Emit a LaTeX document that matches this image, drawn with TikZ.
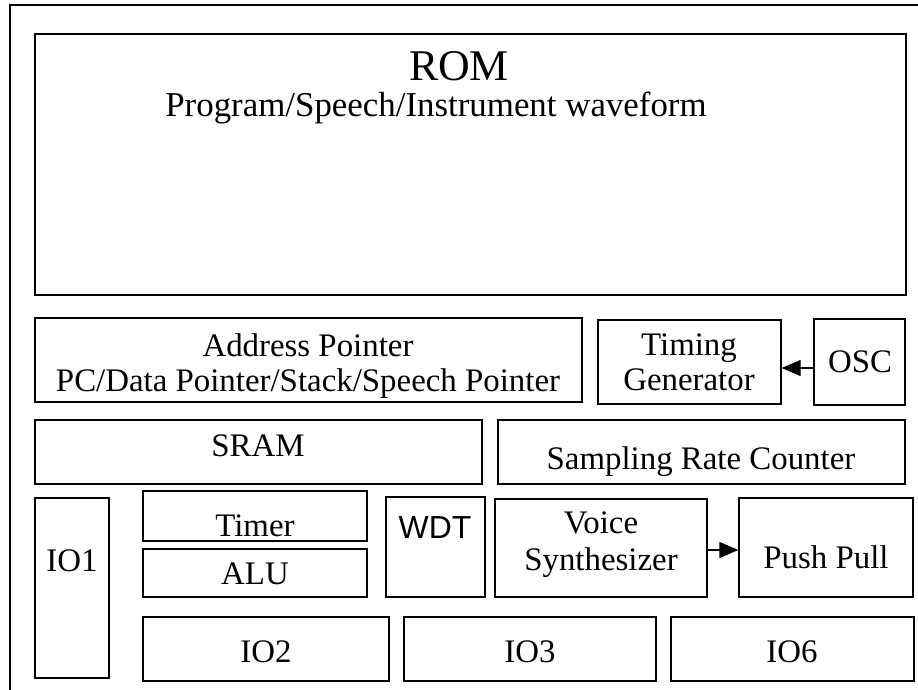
\documentclass[tikz,border=0pt]{standalone}
\usepackage{fontspec}
\setmainfont{Liberation Serif}
\newfontfamily\arialf{Liberation Sans}
\usetikzlibrary{fit,arrows.meta}
\begin{document}
\begin{tikzpicture}[x=1bp,y=-1bp,
  box/.style={draw,line width=1.4bp,inner sep=0pt,rectangle},
  txt/.style={inner sep=0pt,anchor=base,font=\fontsize{33}{38}\selectfont},
  sub/.style={inner sep=0pt,anchor=base,font=\fontsize{35}{40}\selectfont},
  big/.style={inner sep=0pt,anchor=base,font=\fontsize{44}{50}\selectfont},
  sans/.style={inner sep=0pt,anchor=base,font=\arialf\fontsize{32}{38}\selectfont},
  arr/.style={line width=1.4bp,-{Triangle[length=19bp,width=16bp]}}]
\useasboundingbox (0,0) rectangle (918,690);
% outer frame (cropped)
\coordinate (fa) at (918,5);
\coordinate (fb) at (10,5);
\coordinate (fc) at (10,690);
\draw[line width=2bp] (fa) -- (fb) -- (fc);
% boxes
\node[box,fit={(35,34) (906,295)}] (rom) {};
\node[box,fit={(35,318) (582,402)}] (addr) {};
\node[box,fit={(598,320) (781,404)}] (timing) {};
\node[box,fit={(814,319) (905,405)}] (osc) {};
\node[box,fit={(35,420) (482,484)}] (sram) {};
\node[box,fit={(498,420) (905,484)}] (src) {};
\node[box,fit={(35,498) (109,678)}] (io1) {};
\node[box,fit={(143,491) (367,541)}] (timer) {};
\node[box,fit={(143,549) (367,597)}] (alu) {};
\node[box,fit={(386,497) (485,597)}] (wdt) {};
\node[box,fit={(495,499) (707,597)}] (voice) {};
\node[box,fit={(739,498) (913,597)}] (pp) {};
\node[box,fit={(143,617) (389,681)}] (io2) {};
\node[box,fit={(404,617) (656,681)}] (io3) {};
\node[box,fit={(671,617) (914,681)}] (io6) {};
% texts
\node[big] (romt) at (459,81) {ROM};
\node[sub] (romd) at (436,117) {Program/Speech/Instrument waveform};
\node[txt] (addrt) at (308,356) {Address Pointer};
\node[txt] (addrd) at (308,391) {PC/Data Pointer/Stack/Speech Pointer};
\node[txt] (timt) at (689,355) {Timing};
\node[txt] (timd) at (689,390) {Generator};
\node[txt] (osct) at (860,372) {OSC};
\node[txt] (sramt) at (258,456) {SRAM};
\node[txt] (srct) at (701,469) {Sampling Rate Counter};
\node[txt] (io1t) at (72,571) {IO1};
\node[txt] (timert) at (255,536) {Timer};
\node[txt] (alut) at (255,584) {ALU};
\node[sans] (wdtt) at (435,538) {WDT};
\node[txt] (voicet) at (601,533) {Voice};
\node[txt] (voiced) at (601,570) {Synthesizer};
\node[txt] (ppt) at (826,568) {Push Pull};
\node[txt] (io2t) at (266,662) {IO2};
\node[txt] (io3t) at (530,662) {IO3};
\node[txt] (io6t) at (792,662) {IO6};
% arrows
\draw[arr] (osc.west |- 0,368) -- (timing.east |- 0,368);
\draw[arr] (voice.east |- 0,550) -- (pp.west |- 0,550);
\end{tikzpicture}
\end{document}
